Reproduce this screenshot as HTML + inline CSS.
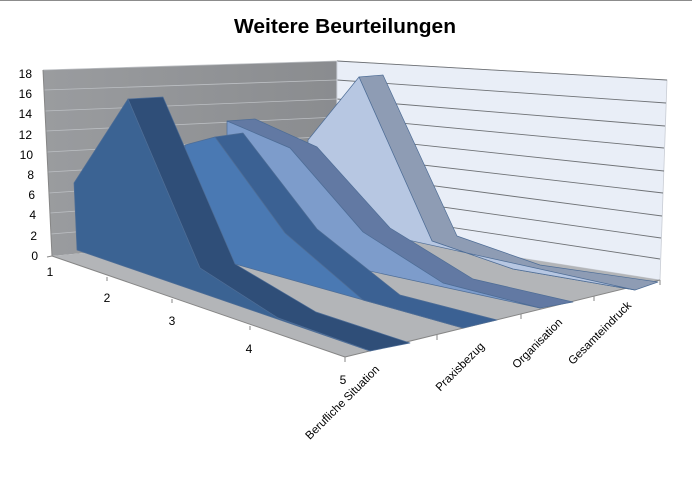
<!DOCTYPE html>
<html><head><meta charset="utf-8"><style>
html,body{margin:0;padding:0;background:#fff;}
svg{display:block;}
text{font-family:"Liberation Sans",sans-serif;}
</style></head><body>
<svg width="692" height="480" viewBox="0 0 692 480" xmlns="http://www.w3.org/2000/svg">
<defs>
<linearGradient id="bw" x1="0" y1="0" x2="1" y2="0">
<stop offset="0" stop-color="#9a9c9f"/><stop offset="1" stop-color="#8a8c8f"/>
</linearGradient>
</defs>
<rect width="692" height="480" fill="#fff"/>
<line x1="0" y1="0.5" x2="692" y2="0.5" stroke="#8c8c8c"/>
<text x="345" y="33" text-anchor="middle" font-size="20" font-weight="bold" fill="#000" textLength="222" lengthAdjust="spacingAndGlyphs">Weitere Beurteilungen</text>

<polygon points="43,70 337,61 337,229 52,256" fill="url(#bw)"/>
<polygon points="337,61 667,80 660,280 337,229" fill="#e9eef7" stroke="#c8ccd4" stroke-width="0.8"/>
<polygon points="52,256 337,229 660,280 345,357" fill="#b3b5b8"/>
<g stroke="#bcbfc3" stroke-width="0.8">
<line x1="43" y1="70" x2="337" y2="61"/>
<line x1="44" y1="90" x2="337" y2="80"/>
<line x1="45" y1="111" x2="337" y2="99"/>
<line x1="46" y1="131" x2="337" y2="117"/>
<line x1="47" y1="152" x2="337" y2="136"/>
<line x1="48" y1="172" x2="337" y2="155"/>
<line x1="49" y1="193" x2="337" y2="173"/>
<line x1="50" y1="213" x2="337" y2="192"/>
<line x1="51" y1="234" x2="337" y2="210"/>
</g>
<g stroke="#6f7276" stroke-width="0.9">
<line x1="337" y1="61" x2="667" y2="80"/>
<line x1="337" y1="80" x2="666" y2="103"/>
<line x1="337" y1="99" x2="665" y2="126"/>
<line x1="337" y1="117" x2="664" y2="148"/>
<line x1="337" y1="136" x2="664" y2="171"/>
<line x1="337" y1="155" x2="663" y2="193"/>
<line x1="337" y1="173" x2="662" y2="216"/>
<line x1="337" y1="192" x2="661" y2="238"/>
<line x1="337" y1="210" x2="660" y2="259"/>
</g>
<line x1="337" y1="61" x2="337" y2="229" stroke="#d0d4dc"/>
<g stroke="#868686" stroke-width="1">
<line x1="43" y1="70" x2="52" y2="256"/>
<line x1="52" y1="256" x2="345" y2="357"/>
<line x1="345" y1="357" x2="660" y2="280"/>
<line x1="52" y1="256" x2="47" y2="257"/>
<line x1="107" y1="277" x2="107" y2="281"/>
<line x1="172" y1="299" x2="172" y2="303"/>
<line x1="250" y1="326" x2="250" y2="330"/>
<line x1="345" y1="357" x2="345" y2="362"/>
<line x1="437" y1="335" x2="437" y2="340"/>
<line x1="521" y1="314" x2="521" y2="319"/>
<line x1="594" y1="296" x2="594" y2="301"/>
<line x1="660" y1="280" x2="660" y2="285"/>
</g>
<g font-size="12" fill="#000" text-anchor="end">
<text x="32" y="78">18</text><text x="32" y="98">16</text><text x="32" y="118">14</text>
<text x="32" y="139">12</text><text x="33" y="159">10</text><text x="34" y="179">8</text>
<text x="35" y="199">6</text><text x="36" y="219">4</text><text x="37" y="240">2</text><text x="38" y="260">0</text>
</g>
<g font-size="12" fill="#000" text-anchor="middle">
<text x="50" y="276">1</text><text x="107" y="302">2</text><text x="172" y="325">3</text>
<text x="249" y="353">4</text><text x="343" y="384">5</text>
</g>
<g font-size="11.5" fill="#000" text-anchor="end">
<text transform="translate(380,370) rotate(-45)">Berufliche Situation</text>
<text transform="translate(485,347) rotate(-45)">Praxisbezug</text>
<text transform="translate(563,323) rotate(-45)">Organisation</text>
<text transform="translate(632,306) rotate(-45)">Gesamteindruck</text>
</g>

<g stroke="#4e6d96" stroke-width="0.7" stroke-linejoin="round">
<polygon points="359,77 383,75 457,236 540,265 658,282 635,290 513,269 432,241" fill="#8e9cb4"/>
<polygon points="308,140 359,77 432,241 513,269 635,290 308,218" fill="#b7c7e2"/>
<polygon points="227,121 255,119 317,147 390,228 473,279 573,302 540,308 443,283 363,232 290,148" fill="#6279a3"/>
<polygon points="227,121 290,148 363,232 443,283 540,308 227,240" fill="#7d9ccb"/>
<polygon points="215,137 243,133 317,229 400,295 497,320 463,328 363,300 285,233" fill="#3b6193"/>
<polygon points="185,145 215,137 285,233 363,300 463,328 185,250" fill="#4a79b3"/>
<polygon points="128,99 163,97 235,264 316,312 410,343 370,351 278,318 200,268" fill="#2f4e78"/>
<polygon points="74,183 128,99 200,268 278,318 370,351 77,250" fill="#3b6393"/>
</g>
</svg>
</body></html>
